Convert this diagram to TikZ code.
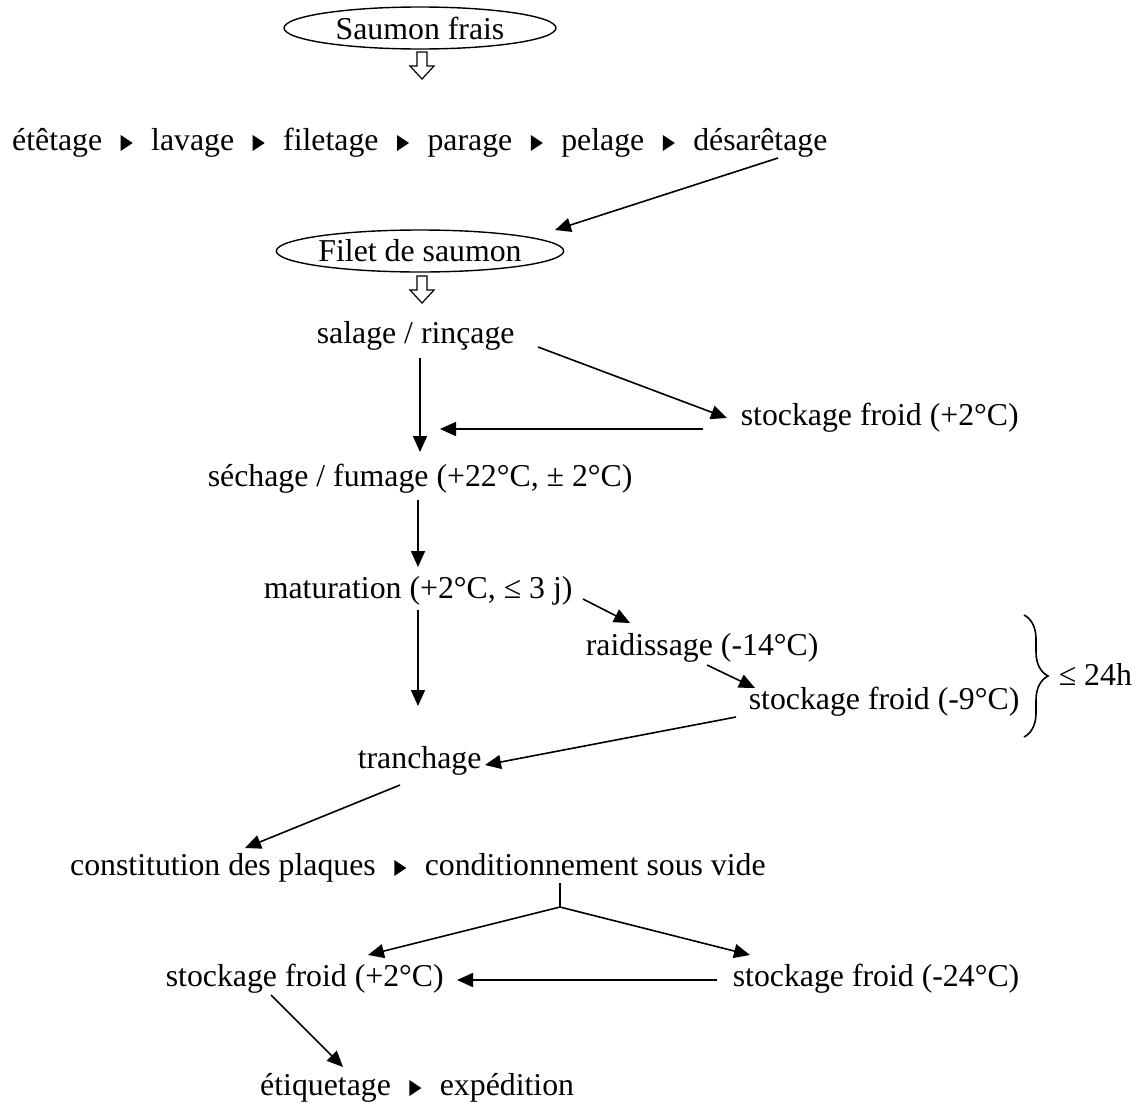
\documentclass[tikz,border=0pt]{standalone}
\usepackage{fontspec}
\setmainfont{Liberation Serif}
\usetikzlibrary{arrows.meta,shapes.geometric,decorations.pathreplacing}
\newcommand\septri{\hspace{18.5pt}\tikz[baseline=0pt]\fill (0pt,-1pt)--(0pt,15pt)--(12pt,7pt)--cycle;\hspace{18.5pt}}
\begin{document}
\begin{tikzpicture}[x=1pt,y=-1pt,
  font=\fontsize{31.8}{38}\selectfont,
  line width=1.6pt,
  txt/.style={anchor=base west, inner sep=0pt},
  oval/.style={ellipse, draw, line width=1.4pt, minimum width=272pt, minimum height=42pt, inner sep=0pt},
  arr/.style={-{Triangle[length=16pt,width=14pt]}},
  hollow/.style={line width=1.2pt, fill=white}]
\useasboundingbox (0,0) rectangle (1147,1106);

% top
\node[oval] (sf) at (420,28) {\raisebox{-1pt}{Saumon frais}};
\coordinate (h1) at (422,52);
\draw[hollow] (h1) ++(-5,0) -- ++(10,0) -- ++(0,14) -- ++(7,0) -- ++(-12,13) -- ++(-12,-13) -- ++(7,0) -- cycle;

\node[txt] (l1) at (12,150) {étêtage\septri lavage\septri filetage\septri parage\septri pelage\septri désarêtage};

\node[oval] (fs) at (420,251) {\raisebox{-1pt}{Filet de saumon}};
\coordinate (h2) at (422,276);
\draw[hollow] (h2) ++(-5,0) -- ++(10,0) -- ++(0,14) -- ++(7,0) -- ++(-12,13) -- ++(-12,-13) -- ++(7,0) -- cycle;

% process nodes
\node[txt] (sal) at (316,343) {salage / rinçage};
\node[txt] (sfa) at (740,425) {stockage froid (+2°C)};
\node[txt] (sech) at (207,486) {séchage / fumage (+22°C, ± 2°C)};
\node[txt] (mat) at (263,598) {maturation (+2°C, ≤ 3 j)};
\node[txt] (raid) at (585,655) {raidissage (-14°C)};
\node[txt] (sfn) at (748,709) {stockage froid (-9°C)};
\node[txt] (tr) at (357,768) {tranchage};
\node[txt] (cons) at (70,875) {constitution des plaques\septri conditionnement sous vide};
\node[txt] (sfb) at (165,986) {stockage froid (+2°C)};
\node[txt] (sfc) at (732,986) {stockage froid (-24°C)};
\node[txt] (etq) at (260,1095) {étiquetage\septri expédition};
\node[txt] (dur) at (1058,685) {≤ 24h};

% connector end points
\coordinate (l1o) at (778,158);  \coordinate (fsi) at (555,230);
\coordinate (salr) at (538,347); \coordinate (sfai) at (727,418);
\coordinate (sfao) at (703,429); \coordinate (reti) at (440,429);
\coordinate (salo) at (420,358); \coordinate (sechi) at (420,452);
\coordinate (secho) at (418,500); \coordinate (mati) at (418,567);
\coordinate (matr) at (583,599); \coordinate (raidi) at (630,623);
\coordinate (raido) at (707,665); \coordinate (sfni) at (755,688);
\coordinate (mato) at (418,610); \coordinate (tri) at (418,706);
\coordinate (sfno) at (736,717); \coordinate (trr) at (485,765);
\coordinate (tro) at (400,785); \coordinate (consi) at (245,848);
\coordinate (conso) at (560,883); \coordinate (split) at (560,907);
\coordinate (sfbi) at (368,955); \coordinate (sfci) at (750,955);
\coordinate (sfco) at (717,980); \coordinate (sfbr) at (457,980);
\coordinate (sfbo) at (271,995); \coordinate (etqi) at (343,1067);
\coordinate (brt) at (1024,615); \coordinate (brb) at (1024,737);

% connectors
\draw[arr] (l1o) -- (fsi);
\draw[arr] (salr) -- (sfai);
\draw[arr] (sfao) -- (reti);
\draw[arr] (salo) -- (sechi);
\draw[arr] (secho) -- (mati);
\draw[arr] (matr) -- (raidi);
\draw[arr] (raido) -- (sfni);
\draw[arr] (mato) -- (tri);
\draw[arr] (sfno) -- (trr);
\draw[arr] (tro) -- (consi);
\draw (conso) -- (split);
\draw[arr] (split) -- (sfbi);
\draw[arr] (split) -- (sfci);
\draw[arr] (sfco) -- (sfbr);
\draw[arr] (sfbo) -- (etqi);
\draw[decorate, decoration={brace, amplitude=24pt}] (brt) -- (brb);
\end{tikzpicture}
\end{document}
